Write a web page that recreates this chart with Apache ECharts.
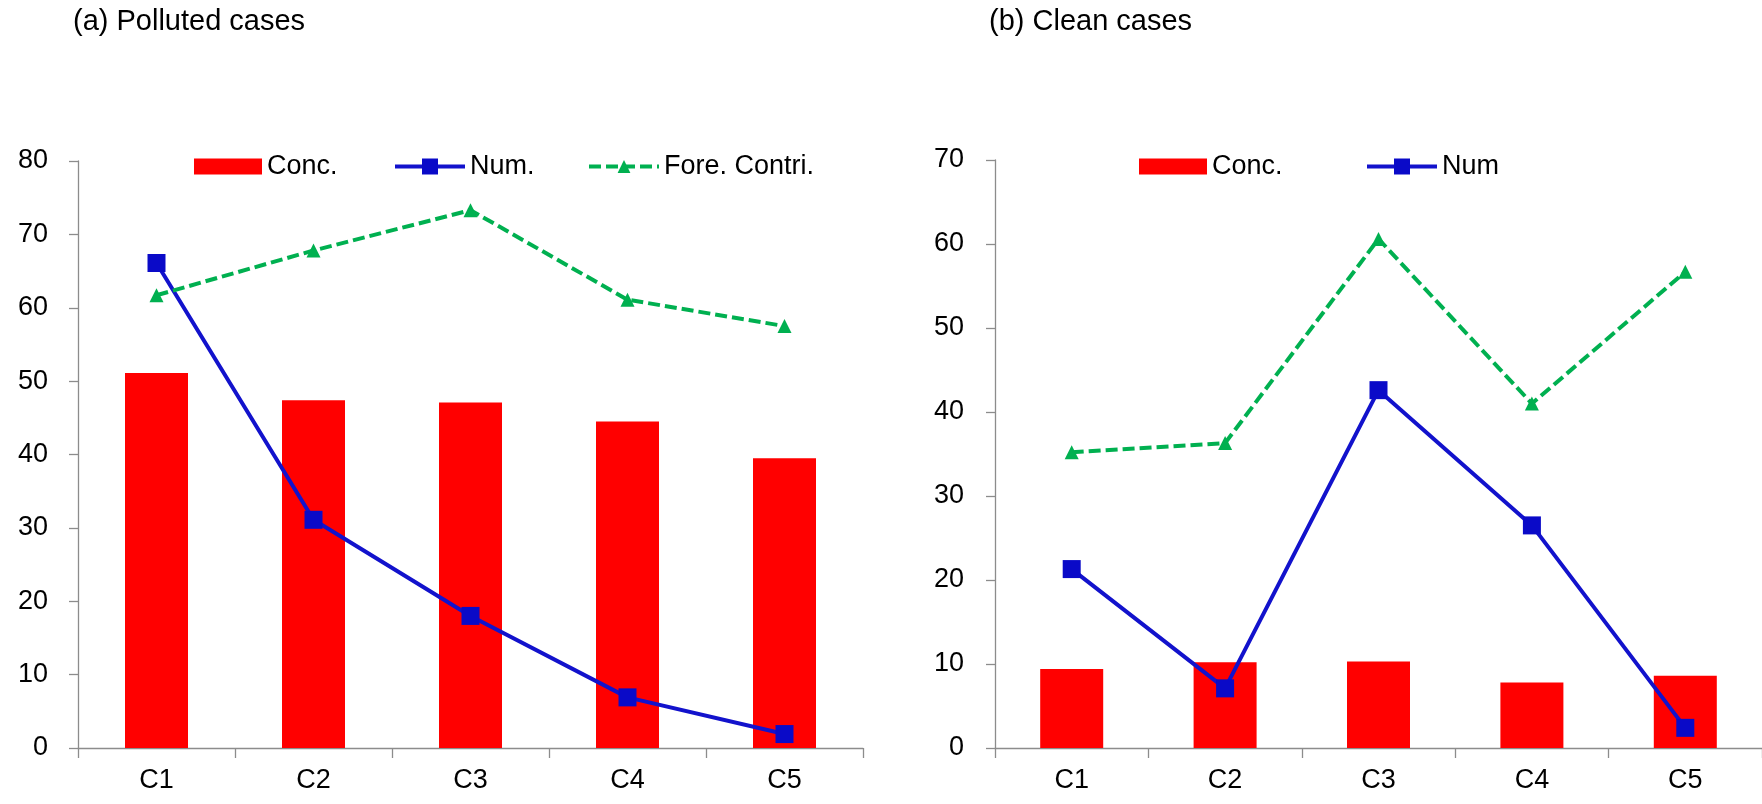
<!DOCTYPE html>
<html>
<head>
<meta charset="utf-8">
<script src="https://cdn.jsdelivr.net/npm/echarts@6/dist/echarts.min.js"></script>
<style>
  html, body { margin: 0; padding: 0; background: #ffffff; }
  #chart { width: 1762px; height: 804px; }
</style>
</head>
<body>
<div id="chart"></div>
<script>
// Case categories shared by both panels
const categories = ['C1', 'C2', 'C3', 'C4', 'C5'];

// (a) Polluted cases
const pollutedConc = [51.1, 47.4, 47.1, 44.5, 39.5];
const pollutedNum = [66.1, 31.1, 18.0, 6.9, 1.9];
const pollutedFore = [61.7, 67.8, 73.3, 61.1, 57.5];

// (b) Clean cases
const cleanConc = [9.4, 10.2, 10.3, 7.8, 8.6];
const cleanNum = [21.3, 7.1, 42.6, 26.5, 2.4];
const cleanFore = [35.2, 36.3, 60.6, 41.0, 56.7];

// Value-axis ranges
const yMaxPolluted = 80;
const yMaxClean = 70;
const yStep = 10;

const FONT = "'Liberation Sans', Arial, Helvetica, sans-serif";
const RED = '#FF0000';
const BLUE_LINE = '#1212CC';
const BLUE_MARK = '#0A0AC8';
const GREEN = '#00B050';
const AXIS_GREY = '#8C8C8C';
const BLUE_STYLE = { color: BLUE_LINE, width: 4 };
const GREEN_STYLE = { color: GREEN, width: 4, type: [12, 5] };

const chart = echarts.init(document.getElementById('chart'), null, { renderer: 'canvas' });

function xAxisFor(gridIndex) {
  return {
    type: 'category',
    gridIndex: gridIndex,
    data: categories,
    boundaryGap: true,
    axisLine: { show: true, lineStyle: { color: AXIS_GREY, width: 1.3 } },
    axisTick: { show: true, alignWithLabel: false, length: 10, lineStyle: { color: AXIS_GREY, width: 1.3 } },
    axisLabel: { color: '#000', fontFamily: FONT, fontSize: 27, margin: 19 },
    splitLine: { show: false }
  };
}

function yAxisFor(gridIndex, max, margin) {
  return {
    type: 'value',
    gridIndex: gridIndex,
    min: 0,
    max: max,
    interval: yStep,
    axisLine: { show: true, lineStyle: { color: AXIS_GREY, width: 1.3 } },
    axisTick: { show: true, length: 9, lineStyle: { color: AXIS_GREY, width: 1.3 } },
    axisLabel: { color: '#000', fontFamily: FONT, fontSize: 27, margin: margin },
    splitLine: { show: false }
  };
}

function barSeries(name, data, idx) {
  return {
    name: name,
    type: 'bar',
    xAxisIndex: idx,
    yAxisIndex: idx,
    data: data,
    barWidth: 63,
    itemStyle: { color: RED },
    z: 1
  };
}

function numSeries(name, data, idx) {
  return {
    name: name,
    type: 'line',
    xAxisIndex: idx,
    yAxisIndex: idx,
    data: data,
    symbol: 'rect',
    symbolSize: 18,
    itemStyle: { color: BLUE_MARK },
    lineStyle: BLUE_STYLE,
    z: 3
  };
}

function foreSeries(name, data, idx) {
  return {
    name: name,
    type: 'line',
    xAxisIndex: idx,
    yAxisIndex: idx,
    data: data,
    symbol: 'triangle',
    symbolSize: 14,
    itemStyle: { color: GREEN },
    lineStyle: GREEN_STYLE,
    z: 4
  };
}

function legendItem(name, left, opts) {
  return Object.assign({
    data: [name],
    left: left,
    top: 153,
    padding: 0,
    orient: 'horizontal',
    selectedMode: false,
    itemWidth: 70,
    textStyle: { color: '#000', fontFamily: FONT, fontSize: 27 }
  }, opts);
}

const option = {
  backgroundColor: '#ffffff',
  animation: false,
  title: [
    { text: '(a) Polluted cases', left: 73, top: 7, padding: 0,
      textStyle: { fontFamily: FONT, fontSize: 29, fontWeight: 'normal', color: '#000' } },
    { text: '(b) Clean cases', left: 989, top: 7, padding: 0,
      textStyle: { fontFamily: FONT, fontSize: 29, fontWeight: 'normal', color: '#000' } }
  ],
  legend: [
    legendItem('Conc.', 194, { itemWidth: 68, itemHeight: 16, icon: 'rect' }),
    legendItem('Num.', 393, { itemHeight: 20, lineStyle: { width: 4 } }),
    legendItem('Fore. Contri.', 587, { itemHeight: 16, lineStyle: { width: 4, type: [12, 5] } }),
    legendItem('Conc.', 1139, { itemWidth: 68, itemHeight: 16, icon: 'rect' }),
    legendItem('Num', 1365, { itemHeight: 20, lineStyle: { width: 4 } })
  ],
  grid: [
    { left: 78, top: 161, width: 785, bottom: 56, containLabel: false },
    { left: 995, top: 160, width: 785, bottom: 56, containLabel: false }
  ],
  xAxis: [xAxisFor(0), xAxisFor(1)],
  yAxis: [yAxisFor(0, yMaxPolluted, 30), yAxisFor(1, yMaxClean, 31)],
  series: [
    barSeries('Conc.', pollutedConc, 0),
    numSeries('Num.', pollutedNum, 0),
    foreSeries('Fore. Contri.', pollutedFore, 0),
    barSeries('Conc.', cleanConc, 1),
    numSeries('Num', cleanNum, 1),
    foreSeries('Fore. Contri. (b)', cleanFore, 1)
  ]
};

chart.setOption(option);
</script>
</body>
</html>
